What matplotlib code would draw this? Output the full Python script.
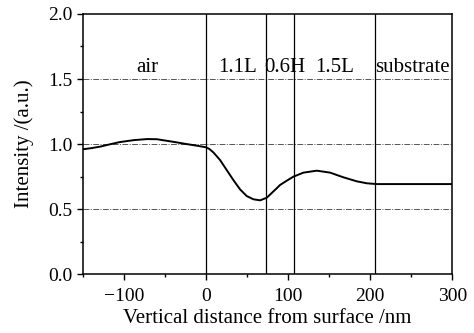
import numpy as np
import matplotlib.pyplot as plt
from matplotlib.ticker import MultipleLocator

plt.rcParams['font.family'] = ['Liberation Serif', 'DejaVu Serif']
plt.rcParams['axes.unicode_minus'] = True

# intensity profile
depth = [-150, -140, -129, -117, -105, -88, -72, -60, -48, -36, -24, -12, 0,
         4, 8.9, 17.1, 25.2, 33.3, 41.5, 49.6, 57.7, 65.9, 74, 86.2, 90.2,
         98.4, 106.5, 118.7, 135, 151.2, 167.4, 183.8, 196, 208, 250, 300]
intensity = [0.96, 0.968, 0.98, 0.998, 1.015, 1.03, 1.038, 1.037, 1.025, 1.013,
             1.0, 0.988, 0.975, 0.962, 0.936, 0.877, 0.80, 0.723, 0.651, 0.60,
             0.575, 0.567, 0.587, 0.66, 0.685, 0.718, 0.749, 0.78, 0.795, 0.78,
             0.744, 0.713, 0.698, 0.692, 0.692, 0.692]

# layer boundaries and names
boundaries = [0, 73, 107, 206]
layer_names = ['air', '1.1L', '0.6H', '1.5L', 'substrate']
label_x = [-72, 39, 96, 157, 252]
ref_levels = [0.5, 1.0, 1.5]

fig = plt.figure(figsize=(4.74, 3.33), dpi=100)
ax = fig.add_axes([0.175, 0.177, 0.779, 0.781])

for y in ref_levels:
    ax.axhline(y, color='#555555', lw=0.7, ls='-.', dashes=(6, 1.5, 1, 1.5))
for b in boundaries:
    ax.axvline(b, color='black', lw=0.9)

ax.plot(depth, intensity, color='black', lw=1.4)

for name, x in zip(layer_names, label_x):
    ax.text(x, 1.585, name, ha='center', va='center', fontsize=15)

ax.set_xlim(-150, 300)
ax.set_ylim(0, 2.0)
ax.xaxis.set_major_locator(MultipleLocator(100))
ax.xaxis.set_minor_locator(MultipleLocator(50))
ax.yaxis.set_major_locator(MultipleLocator(0.5))
ax.yaxis.set_minor_locator(MultipleLocator(0.25))
ax.yaxis.set_major_formatter(plt.FormatStrFormatter('%.1f'))
ax.tick_params(which='major', direction='out', length=4, width=1, labelsize=14)
ax.tick_params(which='minor', direction='out', length=2.5, width=1)
ax.tick_params(axis='x', which='major', pad=6)
for s in ax.spines.values():
    s.set_linewidth(1.1)

ax.set_xlabel('Vertical distance from surface /nm', fontsize=15, labelpad=3)
ax.set_ylabel('Intensity /(a.u.)', fontsize=15, labelpad=10)

fig.savefig('out.png', dpi=100)
